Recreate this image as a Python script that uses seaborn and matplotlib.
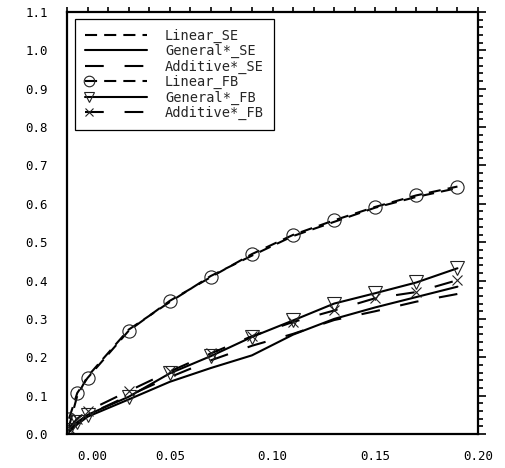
import numpy as np
import pandas as pd
import seaborn as sns
import matplotlib
matplotlib.use("Agg")
import matplotlib.pyplot as plt
from matplotlib.ticker import MultipleLocator, FuncFormatter
from matplotlib.legend_handler import HandlerLine2D

# ---- data ----
x_vals = [0.001, 0.005, 0.01, 0.03, 0.05, 0.07, 0.09, 0.11, 0.13, 0.15, 0.17, 0.19]
linear_se = [0.02, 0.100, 0.150, 0.272, 0.344, 0.412, 0.465, 0.516, 0.553, 0.590, 0.618, 0.641]
general_se = [0.005, 0.025, 0.045, 0.090, 0.136, 0.172, 0.205, 0.259, 0.300, 0.330, 0.357, 0.384]
additive_se = [0.010, 0.030, 0.050, 0.100, 0.148, 0.192, 0.230, 0.261, 0.297, 0.320, 0.345, 0.365]
linear_fb = [0.040, 0.107, 0.146, 0.269, 0.347, 0.409, 0.469, 0.519, 0.557, 0.592, 0.622, 0.645]
general_fb = [0.010, 0.030, 0.050, 0.097, 0.158, 0.203, 0.253, 0.296, 0.340, 0.367, 0.395, 0.432]
additive_fb = [0.015, 0.040, 0.060, 0.112, 0.163, 0.210, 0.255, 0.292, 0.322, 0.354, 0.370, 0.401]

series_names = ["Linear_SE", "General*_SE", "Additive*_SE",
                "Linear_FB", "General*_FB", "Additive*_FB"]
series_values = [linear_se, general_se, additive_se,
                 linear_fb, general_fb, additive_fb]

x_tick_values = [0.00, 0.05, 0.10, 0.15, 0.20]
y_tick_values = [0.0, 0.1, 0.2, 0.3, 0.4, 0.5, 0.6, 0.7, 0.8, 0.9, 1.0, 1.1]

# ---- styles ----
LW = 1.5
short_dash = (0, (5.8, 3.4))
long_dash = (0, (9.0, 10.0))
styles = {
    "Linear_SE": dict(linestyle=short_dash, marker=None),
    "General*_SE": dict(linestyle="-", marker=None),
    "Additive*_SE": dict(linestyle=long_dash, marker=None),
    "Linear_FB": dict(linestyle=short_dash, marker="o", markersize=9.5),
    "General*_FB": dict(linestyle="-", marker="v", markersize=9.5),
    "Additive*_FB": dict(linestyle=long_dash, marker="x", markersize=7.5),
}

sns.set_style("white")
plt.rcParams["font.family"] = ["DejaVu Sans Mono", "DejaVu Sans"]

fig = plt.figure(figsize=(5.06, 4.68), dpi=100)
ax = fig.add_axes([67 / 506, 1 - 434 / 468, (478 - 67) / 506, (434 - 12) / 468])

for name, vals in zip(series_names, series_values):
    df = pd.DataFrame({"x": x_vals, "y": vals})
    st = styles[name]
    kw = dict(color="black", linewidth=LW, linestyle=st["linestyle"], label=name)
    if st["marker"] is not None:
        kw.update(marker=st["marker"], markersize=st["markersize"],
                  markerfacecolor="none", markeredgecolor="#222222",
                  markeredgewidth=0.8)
    sns.lineplot(data=df, x="x", y="y", ax=ax, errorbar=None, sort=False, **kw)

ax.set_xlim(0, 0.2)
ax.set_ylim(0, 1.1)
ax.set_xlabel("")
ax.set_ylabel("")

ax.xaxis.set_major_locator(MultipleLocator(0.05))
ax.xaxis.set_minor_locator(MultipleLocator(0.01))
ax.yaxis.set_major_locator(MultipleLocator(0.1))
ax.yaxis.set_minor_locator(MultipleLocator(0.02))

ax.xaxis.set_major_formatter(FuncFormatter(lambda v, p: "" if abs(v) < 1e-9 else f"{v:.2f}"))
ax.yaxis.set_major_formatter(FuncFormatter(lambda v, p: f"{v:.1f}"))

ax.tick_params(axis="both", which="both", direction="out", top=True, right=True,
               labeltop=False, labelright=False, width=1.2, color="black",
               labelsize=9, labelcolor="black")
ax.tick_params(axis="y", which="major", length=5.5, pad=8)
ax.tick_params(axis="y", which="minor", length=3.5)
ax.tick_params(axis="x", which="both", length=3.5, pad=8)

# "0.00" label shifted right (as in the reference)
ax.annotate(f"{x_tick_values[0]:.2f}", xy=(0, 0), xycoords=("data", "axes fraction"),
            xytext=(18, -11.5), textcoords="offset points", ha="center", va="top",
            fontsize=9, color="black")

for s in ax.spines.values():
    s.set_visible(True)
    s.set_color("black")
    s.set_linewidth(1.6)


class LeftMarkerHandler(HandlerLine2D):
    def create_artists(self, legend, orig_handle, xdescent, ydescent, width,
                       height, fontsize, trans):
        artists = super().create_artists(legend, orig_handle, xdescent, ydescent,
                                         width, height, fontsize, trans)
        x0 = -xdescent
        x1 = -xdescent + width
        xm = x0 + 0.07 * width
        for a in artists:
            yd = a.get_ydata()
            a.set_xdata([x0, xm, x1])
            a.set_ydata([yd[0]] * 3)
            a.set_markevery([1])
        return artists


handles = ax.get_lines()[:6]
leg = ax.legend(handles, series_names, loc="upper left", bbox_to_anchor=(0.02, 0.983),
                borderaxespad=0, frameon=True, fancybox=False, framealpha=1,
                edgecolor="black", fontsize=9.8, handlelength=4.6, handletextpad=1.3,
                labelspacing=0.1, borderpad=0.7, numpoints=1, markerscale=0.8,
                handler_map={h: LeftMarkerHandler() for h in handles})
leg.get_frame().set_linewidth(0.9)

fig.savefig("out.png", dpi=100)
